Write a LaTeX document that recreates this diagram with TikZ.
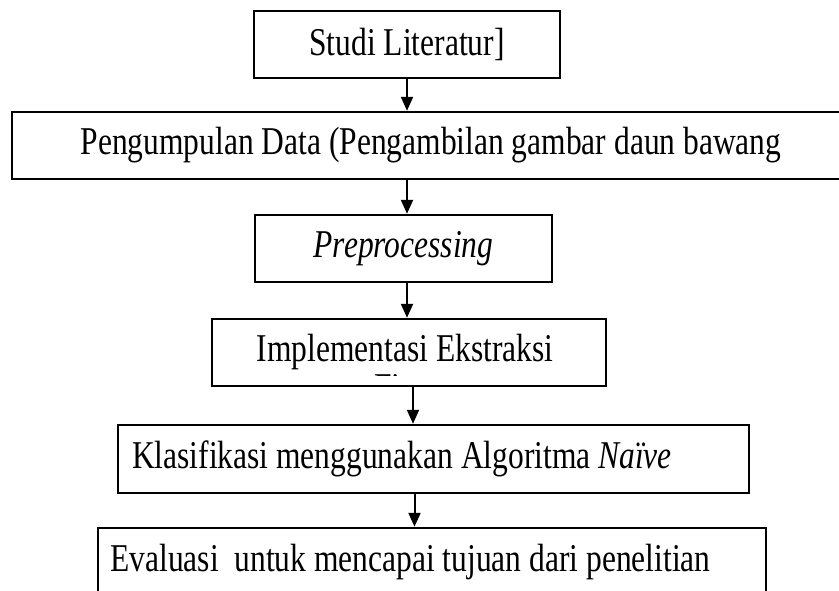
\documentclass[tikz,border=0pt]{standalone}
\usepackage{graphicx}
\usepackage{fontspec}
\setmainfont{Liberation Serif}
\usetikzlibrary{arrows.meta}

\newcommand{\tallword}[1]{\scalebox{1}[1.25]{#1}}

\begin{document}
\begin{tikzpicture}[x=1pt,y=-1pt,>={Triangle[length=14pt,width=12pt]},
  stagebox/.style={draw,line width=2.4pt,rectangle,inner sep=0pt,font=\fontsize{31.5}{36}\selectfont},
  flow/.style={->,line width=2pt}]
  \useasboundingbox (0,0) rectangle (839,590);
  \node[stagebox,minimum width=306pt,minimum height=67pt] (lit) at (407,44.5) {\tallword{Studi Literatur]}};
  \node[stagebox,minimum width=838pt,minimum height=67pt] (data) at (431,145.5) {\tallword{Pengumpulan Data (Pengambilan gambar daun bawang}};
  \node[stagebox,minimum width=297pt,minimum height=67pt] (prep) at (403.5,248.5) {\tallword{\textit{Preprocessing}}};
  \node[stagebox,minimum width=394pt,minimum height=67pt] (ekstr) at (409,352.5) {\raisebox{-3pt}{\tallword{Implementasi Ekstraksi}}\hspace*{8pt}};
  \node[stagebox,minimum width=631pt,minimum height=68pt] (klas) at (433.5,459) {\tallword{Klasifikasi menggunakan Algoritma \textit{Naïve}}\hspace*{63pt}};
  \node[stagebox,minimum width=668pt,minimum height=68pt] (eval) at (432,562) {\tallword{Evaluasi\ \ untuk mencapai tujuan dari penelitian}\hspace*{43pt}};
  % second line of the stage text, cut off by the box
  \begin{scope}
    \clip (ekstr.west) rectangle (ekstr.north east) -- (ekstr.east) -- ++(0,22.5) -| (ekstr.west);
    \node[font=\fontsize{31.5}{36}\selectfont,inner sep=0pt,anchor=base] (fitur) at (405,400) {\tallword{Fitur}};
  \end{scope}
  \draw[flow] (lit.south) -- (lit.south |- data.north);
  \draw[flow] (data.south -| lit) -- (prep.north -| lit);
  \draw[flow] (prep.south -| lit) -- (ekstr.north -| lit);
  \draw[flow] ([xshift=4pt]ekstr.south) -- ([xshift=4pt]ekstr.south |- klas.north);
  \draw[flow] ([xshift=-19pt]klas.south) -- ([xshift=-19pt]klas.south |- eval.north);
\end{tikzpicture}
\end{document}
